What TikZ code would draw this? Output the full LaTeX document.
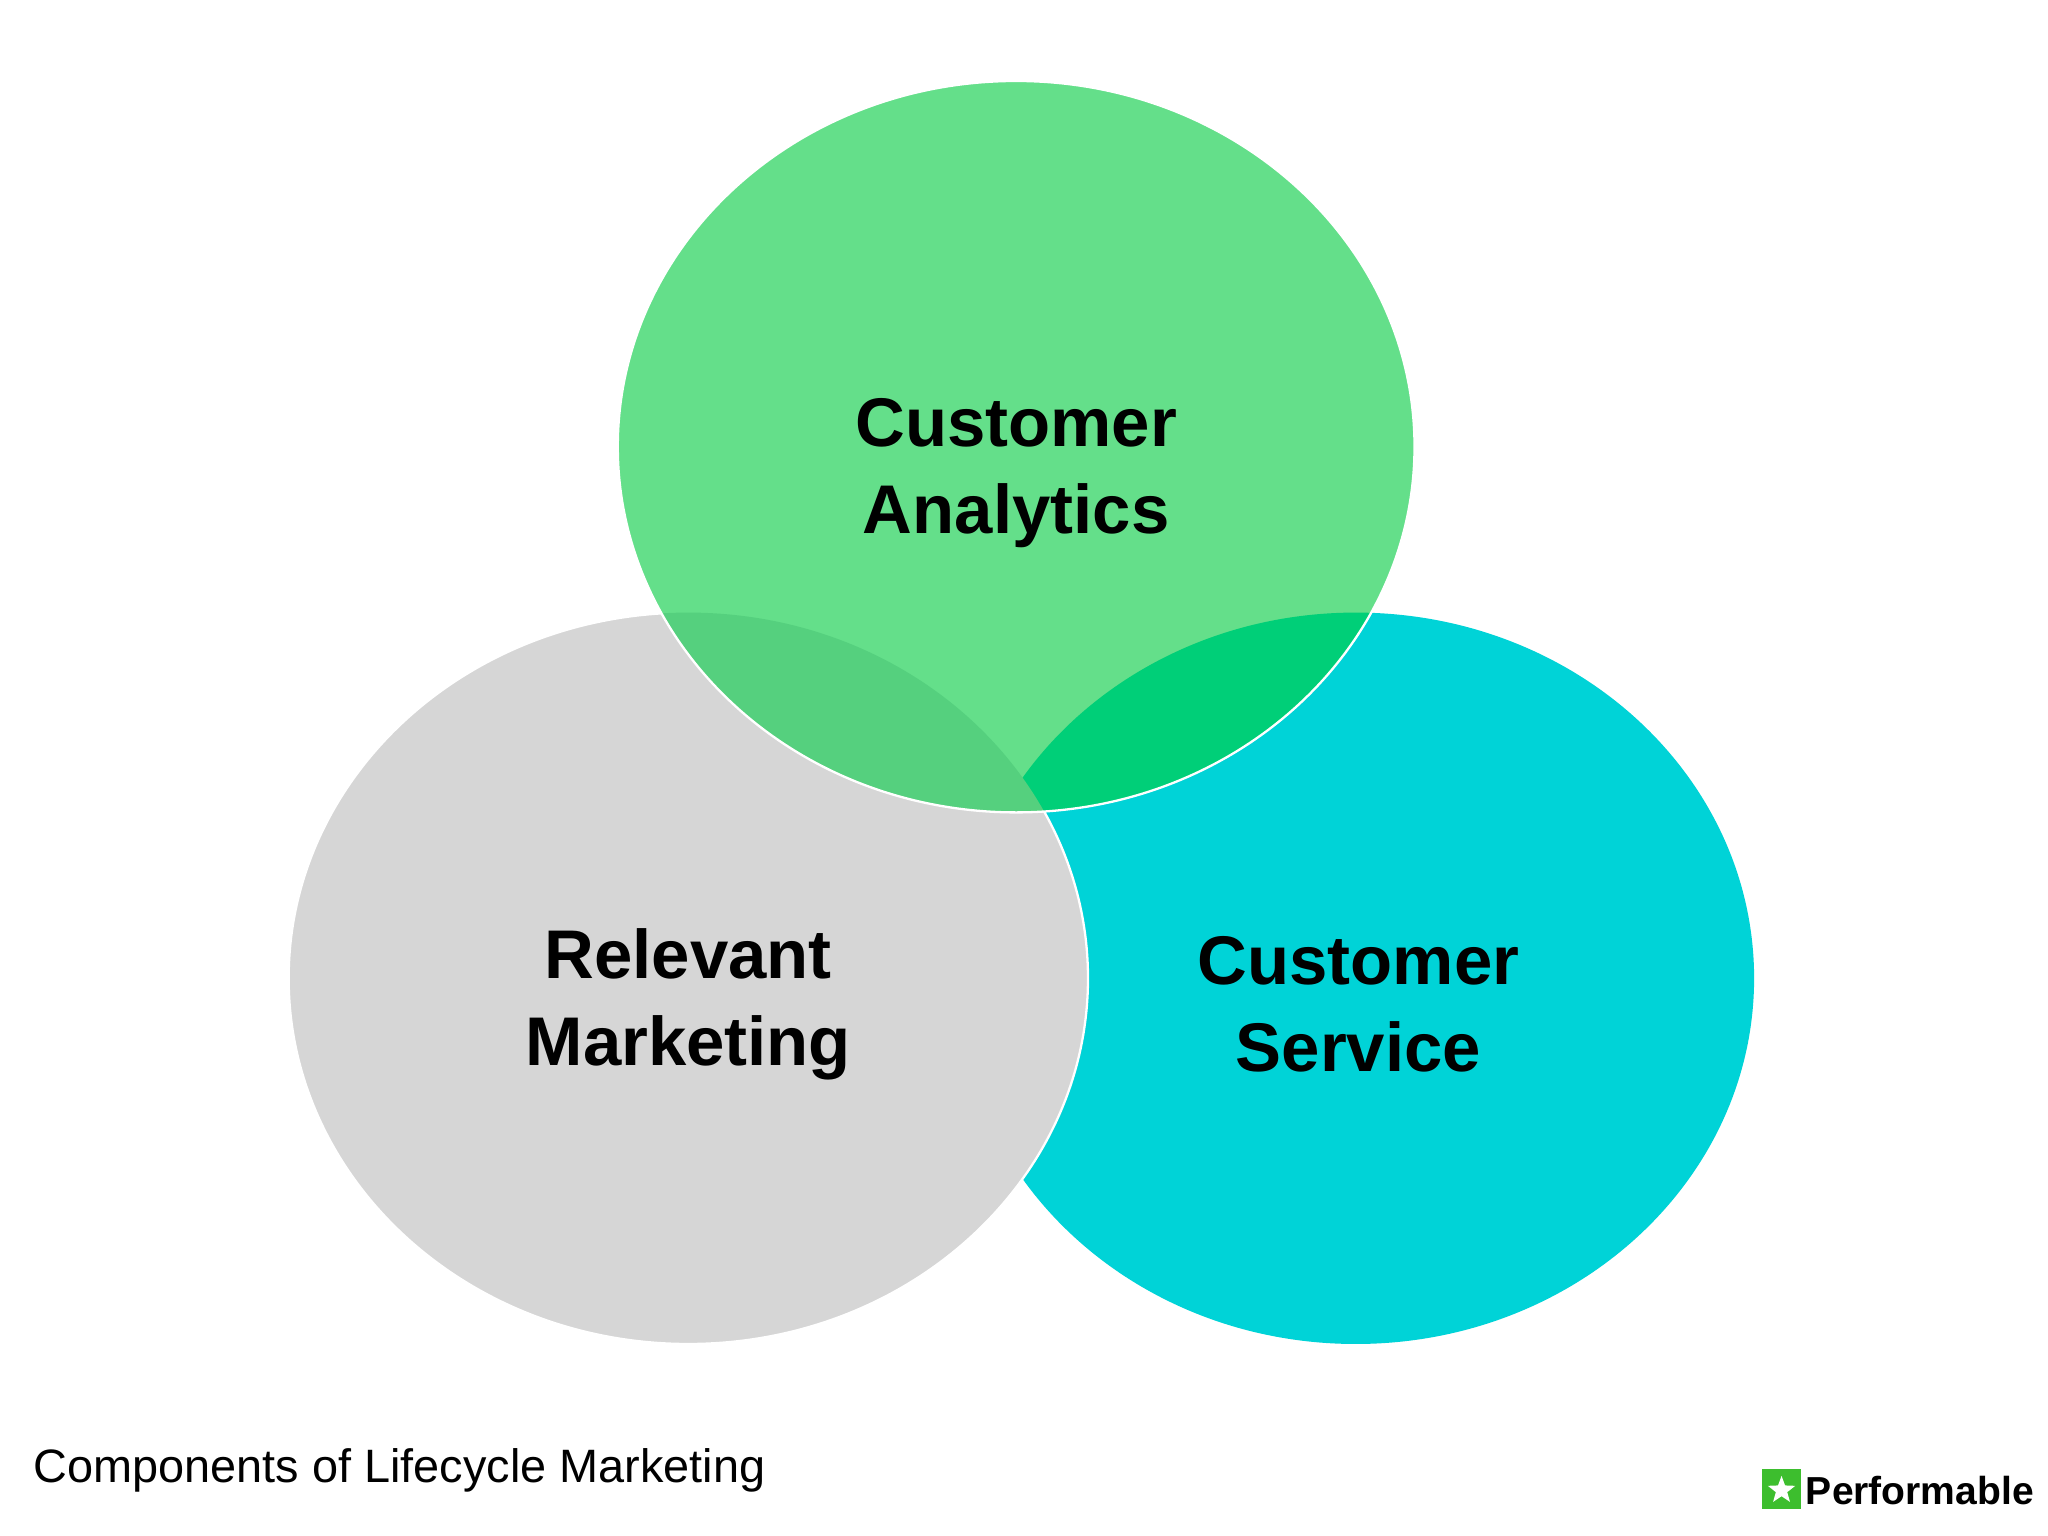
\documentclass[tikz,border=0pt]{standalone}
\usepackage{fontspec}
\setmainfont{Liberation Sans}
\usetikzlibrary{shapes.geometric}
\definecolor{cgreen}{HTML}{64DF8A}
\definecolor{cgray}{HTML}{D6D6D6}
\definecolor{ccyan}{HTML}{00D3D7}
\definecolor{cgg}{HTML}{55D07E}
\definecolor{cgc}{HTML}{00CF78}
\definecolor{logog}{HTML}{3DBE2E}
\tikzset{lbl/.style={align=center,font=\fontsize{15}{19}\selectfont\bfseries,text=black}}
\begin{document}
\begin{tikzpicture}[x=0.01cm,y=-0.01cm]
\useasboundingbox[fill=white] (0,0) rectangle (1568,1176);
\def\G{(778,342) ellipse [x radius=305,y radius=280]}
\def\R{(527,749) ellipse [x radius=306,y radius=280]}
\def\C{(1038,749) ellipse [x radius=305,y radius=280]}
\fill[ccyan] \C;
\fill[cgray] \R;
\draw[white,line width=0.5pt] \R;
\fill[cgreen] \G;
\begin{scope}\clip \G; \fill[cgc] \C; \end{scope}
\begin{scope}\clip \G; \fill[cgg] \R; \end{scope}
\draw[white,line width=0.5pt] \G;
\node[lbl] (ca) at (778,362) {Customer\\Analytics};
\node[lbl] (rm) at (527,769) {Relevant\\Marketing};
\node[lbl] (cs) at (1040,769) {Customer\\Service};
\node[anchor=west,inner sep=0pt,font=\fontsize{10.2}{12}\selectfont] (cap) at (25,1126) {Components of Lifecycle Marketing};
\node[fill=logog,minimum size=0.3cm,inner sep=0pt] (logo) at (1364,1140) {};
\node[star,star points=5,star point ratio=2.4,fill=white,minimum size=0.22cm,inner sep=0pt] (st) at (1364,1141) {};
\node[anchor=west,font=\fontsize{8.5}{10}\selectfont\bfseries,inner sep=0pt] (perf) at (1382,1141) {Performable};
\end{tikzpicture}
\end{document}
